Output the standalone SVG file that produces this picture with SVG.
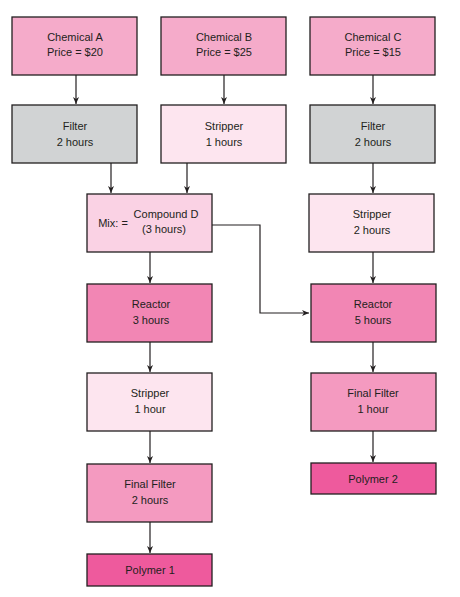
<svg xmlns="http://www.w3.org/2000/svg" width="460" height="597" viewBox="0 0 460 597">
<style>
.b{stroke:#231f20;stroke-width:1.3}
.chem{fill:#f5abca}
.filt{fill:#d1d3d4}
.strip{fill:#fde5ef}
.mix{fill:#fad2e4}
.reac{fill:#f286b4}
.ff{fill:#f49ac0}
.poly{fill:#ee5a9d}
text{font-family:"Liberation Sans Narrow","Liberation Sans",Arial,sans-serif;font-size:11px;fill:#231f20;text-anchor:middle}
.c{fill:none;stroke:#231f20;stroke-width:1.2}
</style>
<defs>
<marker id="ah" markerWidth="8" markerHeight="8" refX="7" refY="4" orient="auto" markerUnits="userSpaceOnUse">
<path d="M0,1 L7,4 L0,7 L2,4 Z" fill="#231f20"/>
</marker>
</defs>
<rect width="460" height="597" fill="#fff"/>
<g id="connectors">
<path class="c" d="M76,75 V104" marker-end="url(#ah)"/>
<path class="c" d="M224,75 V104" marker-end="url(#ah)"/>
<path class="c" d="M373,75 V104" marker-end="url(#ah)"/>
<path class="c" d="M111,163 V193" marker-end="url(#ah)"/>
<path class="c" d="M187,163 V193" marker-end="url(#ah)"/>
<path class="c" d="M373,163 V193" marker-end="url(#ah)"/>
<path class="c" d="M150,252 V283" marker-end="url(#ah)"/>
<path class="c" d="M373,252 V283" marker-end="url(#ah)"/>
<path class="c" d="M212,225 H260 V313 H309" marker-end="url(#ah)"/>
<path class="c" d="M150,342 V372" marker-end="url(#ah)"/>
<path class="c" d="M373,342 V372" marker-end="url(#ah)"/>
<path class="c" d="M150,431 V463" marker-end="url(#ah)"/>
<path class="c" d="M373,431 V462" marker-end="url(#ah)"/>
<path class="c" d="M150,522 V553" marker-end="url(#ah)"/>
</g>
<g id="chemA"><rect class="b chem" x="12" y="17" width="125" height="58"/><text x="75" y="41">Chemical A</text><text x="75" y="56">Price = $20</text></g>
<g id="chemB"><rect class="b chem" x="161" y="17" width="125" height="58"/><text x="224" y="41">Chemical B</text><text x="224" y="56">Price = $25</text></g>
<g id="chemC"><rect class="b chem" x="310" y="17" width="125" height="58"/><text x="373" y="41">Chemical C</text><text x="373" y="56">Price = $15</text></g>
<g id="filterA"><rect class="b filt" x="12" y="105" width="125" height="58"/><text x="75" y="130">Filter</text><text x="75" y="146">2 hours</text></g>
<g id="stripperB"><rect class="b strip" x="161" y="105" width="125" height="58"/><text x="224" y="130">Stripper</text><text x="224" y="146">1 hours</text></g>
<g id="filterC"><rect class="b filt" x="310" y="105" width="125" height="58"/><text x="373" y="130">Filter</text><text x="373" y="146">2 hours</text></g>
<g id="mix"><rect class="b mix" x="87" y="194" width="125" height="58"/><text x="113" y="227">Mix: =</text><text x="166" y="218">Compound D</text><text x="164" y="233">(3 hours)</text></g>
<g id="stripperC"><rect class="b strip" x="309" y="194" width="125" height="58"/><text x="372" y="218">Stripper</text><text x="372" y="234">2 hours</text></g>
<g id="reactor1"><rect class="b reac" x="87" y="284" width="125" height="58"/><text x="151" y="308">Reactor</text><text x="151" y="324">3 hours</text></g>
<g id="reactor2"><rect class="b reac" x="311" y="284" width="125" height="58"/><text x="373" y="308">Reactor</text><text x="373" y="324">5 hours</text></g>
<g id="stripper1"><rect class="b strip" x="87" y="373" width="125" height="58"/><text x="150" y="397">Stripper</text><text x="150" y="413">1 hour</text></g>
<g id="finalFilter2"><rect class="b ff" x="311" y="373" width="125" height="58"/><text x="373" y="397">Final Filter</text><text x="373" y="413">1 hour</text></g>
<g id="finalFilter1"><rect class="b ff" x="87" y="464" width="125" height="58"/><text x="150" y="488">Final Filter</text><text x="150" y="504">2 hours</text></g>
<g id="polymer2"><rect class="b poly" x="311" y="463" width="125" height="31"/><text x="373" y="483">Polymer 2</text></g>
<g id="polymer1"><rect class="b poly" x="87" y="554" width="125" height="32"/><text x="150" y="574">Polymer 1</text></g>
</svg>
